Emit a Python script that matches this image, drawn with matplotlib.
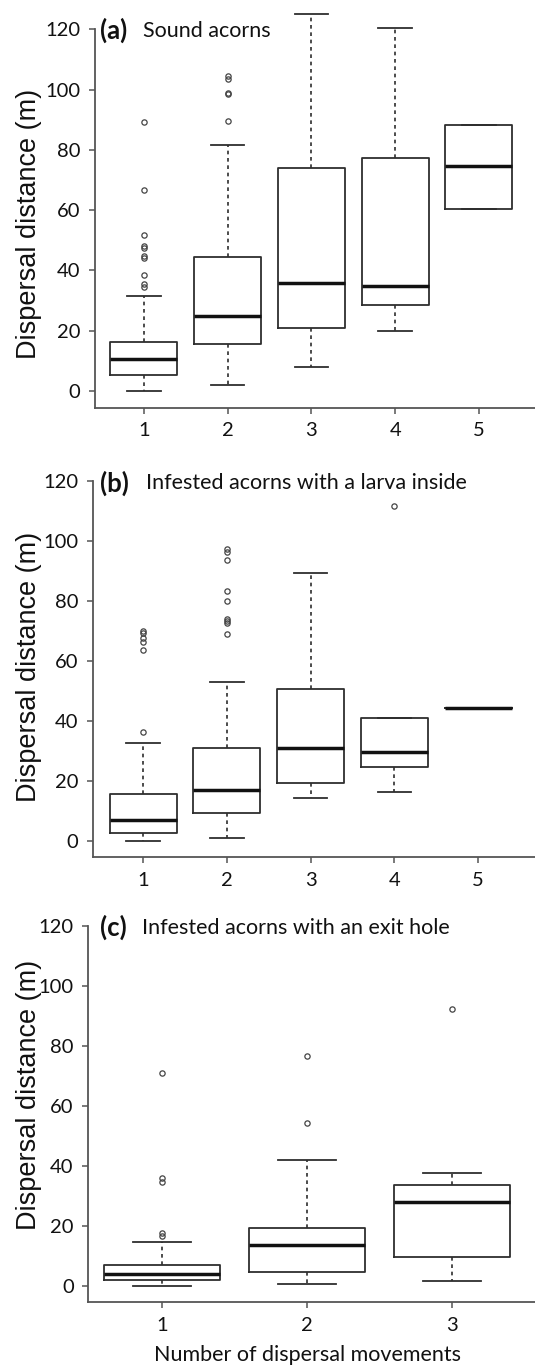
import matplotlib
matplotlib.use("Agg")
import matplotlib.pyplot as plt

# ---------------- data ----------------
a_cats = [1, 2, 3, 4, 5]
a_lo  = [0.0, 1.9, 8.1, 19.9, 60.4]
a_q1  = [5.3, 15.6, 20.9, 28.5, 60.4]
a_med = [10.5, 24.9, 35.9, 34.8, 74.6]
a_q3  = [16.4, 44.4, 74.0, 77.4, 88.4]
a_hi  = [31.6, 81.6, 125.0, 120.4, 88.4]
a_out = [[34.6, 35.4, 38.5, 44.0, 44.8, 47.3, 48.1, 51.7, 66.7, 89.1],
         [89.7, 98.4, 98.8, 103.5, 104.5], [], [], []]

b_cats = [1, 2, 3, 4, 5]
b_lo  = [0.1, 0.9, 14.2, 16.5, 44.5]
b_q1  = [2.7, 9.2, 19.2, 24.6, 44.5]
b_med = [7.1, 17.1, 30.9, 29.7, 44.5]
b_q3  = [15.8, 31.0, 50.7, 40.9, 44.5]
b_hi  = [32.7, 53.2, 89.3, 40.9, 44.5]
b_out = [[36.3, 63.7, 66.5, 67.6, 69.3, 70.1],
         [69.0, 72.6, 73.4, 74.0, 80.1, 83.5, 93.8, 96.3, 97.5],
         [], [111.9], []]

c_cats = [1, 2, 3]
c_lo  = [0.0, 0.5, 1.6]
c_q1  = [1.9, 4.6, 9.6]
c_med = [3.8, 13.5, 27.8]
c_q3  = [7.0, 19.4, 33.7]
c_hi  = [14.5, 42.0, 37.5]
c_out = [[16.5, 17.7, 34.7, 35.8, 70.9], [54.2, 76.7], [92.3]]

yticks = [0, 20, 40, 60, 80, 100, 120]
titles_tag = ["(a)", "(b)", "(c)"]
titles_txt = ["Sound acorns", "Infested acorns with a larva inside",
              "Infested acorns with an exit hole"]
ylabel = "Dispersal distance (m)"
xlabel = "Number of dispersal movements"

# ---------------- layout ----------------
W, H = 535, 1366
fig = plt.figure(figsize=(W / 100, H / 100), dpi=100)

TICKFONT = "Lato"
LABELFONT = "Liberation Sans"
LINE = "#2e2e2e"
SPINE = "#555555"

panels = [
    dict(left=95, top=0, bottom=407.7, xlim=(0.415, 5.67), ylim=(-5.5, 129.7),
         cats=a_cats, lo=a_lo, q1=a_q1, med=a_med, q3=a_q3, hi=a_hi, out=a_out,
         tagx=100, txtx=143, ylc=224),
    dict(left=93, top=452.3, bottom=857.3, xlim=(0.403, 5.68), ylim=(-5.44, 129.7),
         cats=b_cats, lo=b_lo, q1=b_q1, med=b_med, q3=b_q3, hi=b_hi, out=b_out,
         tagx=100, txtx=146.5, ylc=667),
    dict(left=88.3, top=897, bottom=1302, xlim=(0.49, 3.57), ylim=(-5.44, 129.7),
         cats=c_cats, lo=c_lo, q1=c_q1, med=c_med, q3=c_q3, hi=c_hi, out=c_out,
         tagx=100, txtx=142.5, ylc=1095),
]

for i, p in enumerate(panels):
    ax = fig.add_axes([p["left"] / W, 1 - p["bottom"] / H,
                       1 - p["left"] / W, (p["bottom"] - p["top"]) / H])
    stats = []
    for k in range(len(p["cats"])):
        stats.append(dict(med=p["med"][k], q1=p["q1"][k], q3=p["q3"][k],
                          whislo=p["lo"][k], whishi=p["hi"][k],
                          fliers=p["out"][k]))
    ax.bxp(stats, positions=p["cats"], widths=0.8, capwidths=0.4,
           boxprops=dict(color=LINE, linewidth=1.3),
           medianprops=dict(color="#111111", linewidth=2.5, solid_capstyle="butt"),
           whiskerprops=dict(color=LINE, linewidth=1.2, linestyle=(0, (2.2, 2.2))),
           capprops=dict(color=LINE, linewidth=1.3),
           flierprops=dict(marker="o", markersize=3.8, markerfacecolor="none",
                           markeredgecolor="#444444", markeredgewidth=0.9,
                           linestyle="none"),
           manage_ticks=False)
    ax.set_xlim(*p["xlim"])
    ax.set_ylim(*p["ylim"])
    ax.set_xticks(p["cats"])
    ax.set_xticklabels([str(c) for c in p["cats"]])
    ax.set_yticks(yticks)
    ax.set_yticklabels([str(t) for t in yticks])
    for s in ["top", "right"]:
        ax.spines[s].set_visible(False)
    for s in ["left", "bottom"]:
        ax.spines[s].set_color(SPINE)
        ax.spines[s].set_linewidth(1.3)
    ax.spines["left"].set_bounds(p["ylim"][0], 120)
    ax.tick_params(axis="both", direction="out", length=4.5, width=1.1,
                   color=SPINE, labelsize=14.5, pad=6, labelcolor="#111111")
    for lab in ax.get_xticklabels() + ax.get_yticklabels():
        lab.set_fontfamily(TICKFONT)
    ax.set_facecolor("none")

    tr = ax.get_yaxis_transform()
    fx = lambda px: (px - p["left"]) / (W - p["left"])
    ax.text(fx(p["tagx"]), 119.5, titles_tag[i], transform=tr, ha="left",
            va="center", fontsize=18.5, fontweight="bold", family=TICKFONT,
            color="#111111")
    ax.text(fx(p["txtx"]), 119.5, titles_txt[i], transform=tr, ha="left",
            va="center", fontsize=15.5, family=TICKFONT, color="#111111")

    fig.text(29 / W, 1 - p["ylc"] / H, ylabel, rotation=90, ha="center",
             va="center", fontsize=19.5, family=LABELFONT, color="#111111")

fig.text(308 / W, 1 - 1355 / H, xlabel, ha="center", va="center",
         fontsize=15.5, family=TICKFONT, color="#111111")

fig.savefig("out.png", dpi=100)
